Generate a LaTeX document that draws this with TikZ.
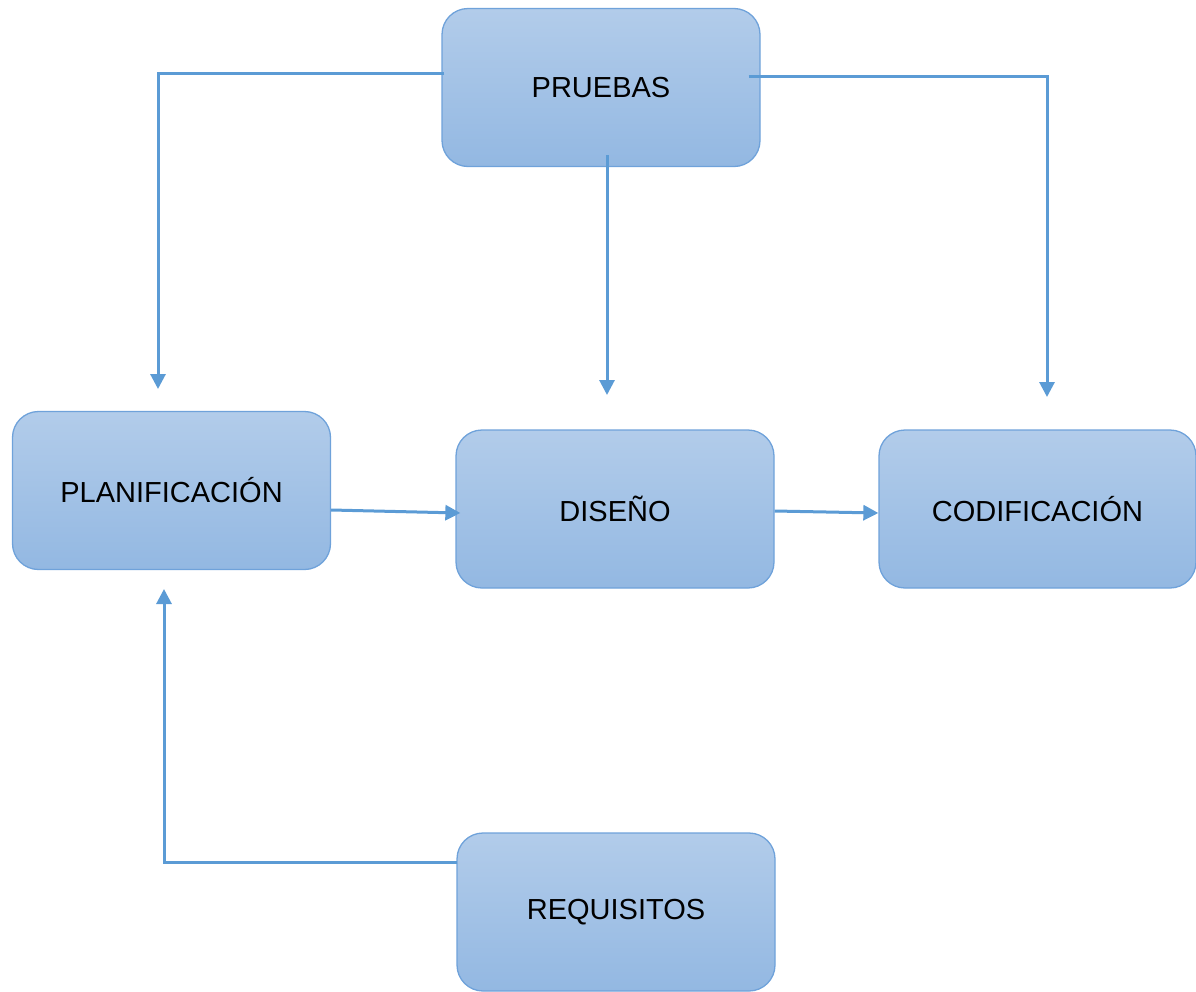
\documentclass[tikz,border=0pt]{standalone}
\usepackage{fontspec}
\setmainfont{Liberation Sans}
\usetikzlibrary{arrows.meta,calc}
\definecolor{boxtop}{HTML}{B2CCEA}
\definecolor{boxbot}{HTML}{93B8E2}
\definecolor{boxline}{HTML}{6FA2DA}
\definecolor{linkblue}{HTML}{5B9BD5}
\tikzset{
  phase/.style={rounded corners=26pt, draw=boxline, line width=1.3pt,
    top color=boxtop, bottom color=boxbot,
    minimum width=318pt, minimum height=158pt, inner sep=0pt,
    font=\fontsize{29}{34}\selectfont},
  conn/.style={draw=linkblue, line width=3pt,
    -{Triangle[length=15pt,width=15pt]}}
}
\begin{document}
\begin{tikzpicture}[x=1pt,y=-1pt]
\useasboundingbox (0,0) rectangle (1196,991);
% phases
\node[phase] (pr) at (601,87.5) {PRUEBAS};
\node[phase] (pl) at (171.5,490.5) {PLANIFICACIÓN};
\node[phase] (ds) at (615,509) {DISEÑO};
\node[phase, minimum width=317pt] (cd) at (1037.5,509) {CODIFICACIÓN};
\node[phase] (rq) at (616,912) {REQUISITOS};
% free arrow ends above the lower row
\coordinate (tpl) at (158,389);
\coordinate (tds) at (607,395);
\coordinate (tcd) at (1047,397);
\coordinate (tup) at (164,589);
% connectors
\draw[conn] ($(pr.west)+(3,-14.5)$) -| (tpl);
\draw[conn] ($(pr.south)+(6,-12)$) -- (tds);
\draw[conn] ($(pr.east)+(-12,-11.5)$) -| (tcd);
\draw[conn] ($(pl.east)+(0,19.5)$) -- ($(ds.west)+(5,4)$);
\draw[conn] ($(ds.east)+(0,2)$) -- ($(cd.west)+(0,4)$);
\draw[conn] ($(rq.west)+(1,-50)$) -| (tup);
\end{tikzpicture}
\end{document}
